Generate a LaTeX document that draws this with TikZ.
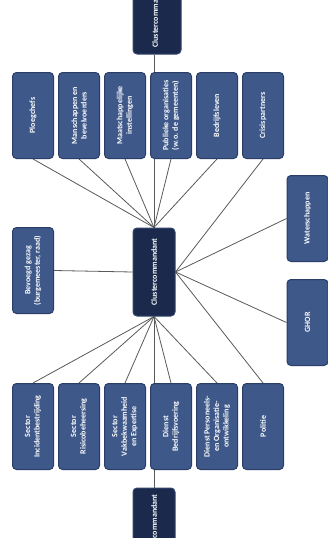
\documentclass[tikz,border=0pt]{standalone}
\usepackage{fontspec}
\setmainfont{Carlito}
\definecolor{boxcol}{HTML}{3E5889}
\definecolor{boxborder}{HTML}{2A3D66}
\definecolor{darkcol}{HTML}{1B2A4C}
\definecolor{darkborder}{HTML}{34466E}
\definecolor{linecol}{HTML}{5A5A5A}
\pgfdeclarelayer{bg}
\pgfdeclarelayer{paper}
\pgfsetlayers{paper,bg,main}
\tikzset{
  box/.style={draw=boxborder, fill=boxcol, rounded corners=4pt, minimum width=41pt, minimum height=86pt, line width=1pt, inner sep=0pt},
  darkbox/.style={box, fill=darkcol, draw=darkborder, minimum width=42pt, minimum height=88pt},
  txt/.style={rotate=90, text=white, font=\bfseries\fontsize{8}{9.5}\selectfont, align=center, inner sep=0pt},
  conn/.style={draw=linecol, line width=0.8pt}
}
\begin{document}
\begin{tikzpicture}[x=1pt,y=-1pt]
\useasboundingbox (0,0) rectangle (328,538);
\begin{pgfonlayer}{paper}
\fill[white] (0,0) rectangle (328,538);
\end{pgfonlayer}
\clip (0,0) rectangle (328,538);
% boxes
\node[darkbox] (c) at (154,272) {};
\node[darkbox, minimum width=48pt] (top) at (157,10) {};
\node[darkbox] (bot) at (154,532) {};
\node[box] (t1) at (33,115.5) {};
\node[box] (t2) at (79,115.5) {};
\node[box] (t3) at (125,115.5) {};
\node[box] (t4) at (171,115.5) {};
\node[box] (t5) at (217,115.5) {};
\node[box] (t6) at (263,115.5) {};
\node[box] (b1) at (33,426.5) {};
\node[box] (b2) at (79,426.5) {};
\node[box] (b3) at (125,426.5) {};
\node[box] (b4) at (171,426.5) {};
\node[box] (b5) at (217,426.5) {};
\node[box] (b6) at (263,426.5) {};
\node[box] (l1) at (33,270.5) {};
\node[box] (r1) at (307.5,218.5) {};
\node[box] (r2) at (307.5,322.5) {};
% texts
\node[txt] (ct) at (c) {Clustercommandant};
\node[txt] (topt) at (155,14) {Clustercommandant};
\node[txt] (bott) at (154,528) {Clustercommandant};
\node[txt] (t1t) at (t1) {Ploegchefs};
\node[txt] (t2t) at (t2) {Manschappen en\\bevelvoerders};
\node[txt] (t3t) at (t3) {Maatschappelijke\\instellingen};
\node[txt] (t4t) at (t4) {Publieke organisaties\\(w.o. de gemeenten)};
\node[txt] (t5t) at (t5) {Bedrijfsleven};
\node[txt] (t6t) at (t6) {Crisispartners};
\node[txt] (b1t) at (b1) {Sector\\Incidentbestrijding};
\node[txt] (b2t) at (b2) {Sector\\Risicobeheersing};
\node[txt] (b3t) at (b3) {Sector\\Vakbekwaamheid\\en Expertise};
\node[txt] (b4t) at (b4) {Dienst\\Bedrijfsvoering};
\node[txt] (b5t) at (b5) {Dienst Personeels-\\en Organisatie-\\ontwikkeling};
\node[txt] (b6t) at (b6) {Politie};
\node[txt] (l1t) at (l1) {Bevoegd gezag\\(burgemeester, raad)};
\node[txt] (r1t) at (r1) {Waterschappen};
\node[txt] (r2t) at (r2) {GHOR};
% connectors (behind boxes)
\begin{pgfonlayer}{bg}
\foreach \n in {t1,t2,t3,t4,t5} \draw[conn] (\n.south) -- (c.north);
\draw[conn] (c.north) -- (c.north |- top.south);
\foreach \n in {b1,b2,b3,b4,b5} \draw[conn] (\n.north) -- (c.south);
\draw[conn] (c.south) -- (c.south |- bot.north);
\draw[conn] (l1.east) -- (c.west);
\draw[conn] (t6.south) -- (c.east);
\draw[conn] (r1.west) -- (c.east);
\draw[conn] (r2.west) -- (c.east);
\draw[conn] (b6.north) -- (c.east);
\end{pgfonlayer}
\end{tikzpicture}
\end{document}
